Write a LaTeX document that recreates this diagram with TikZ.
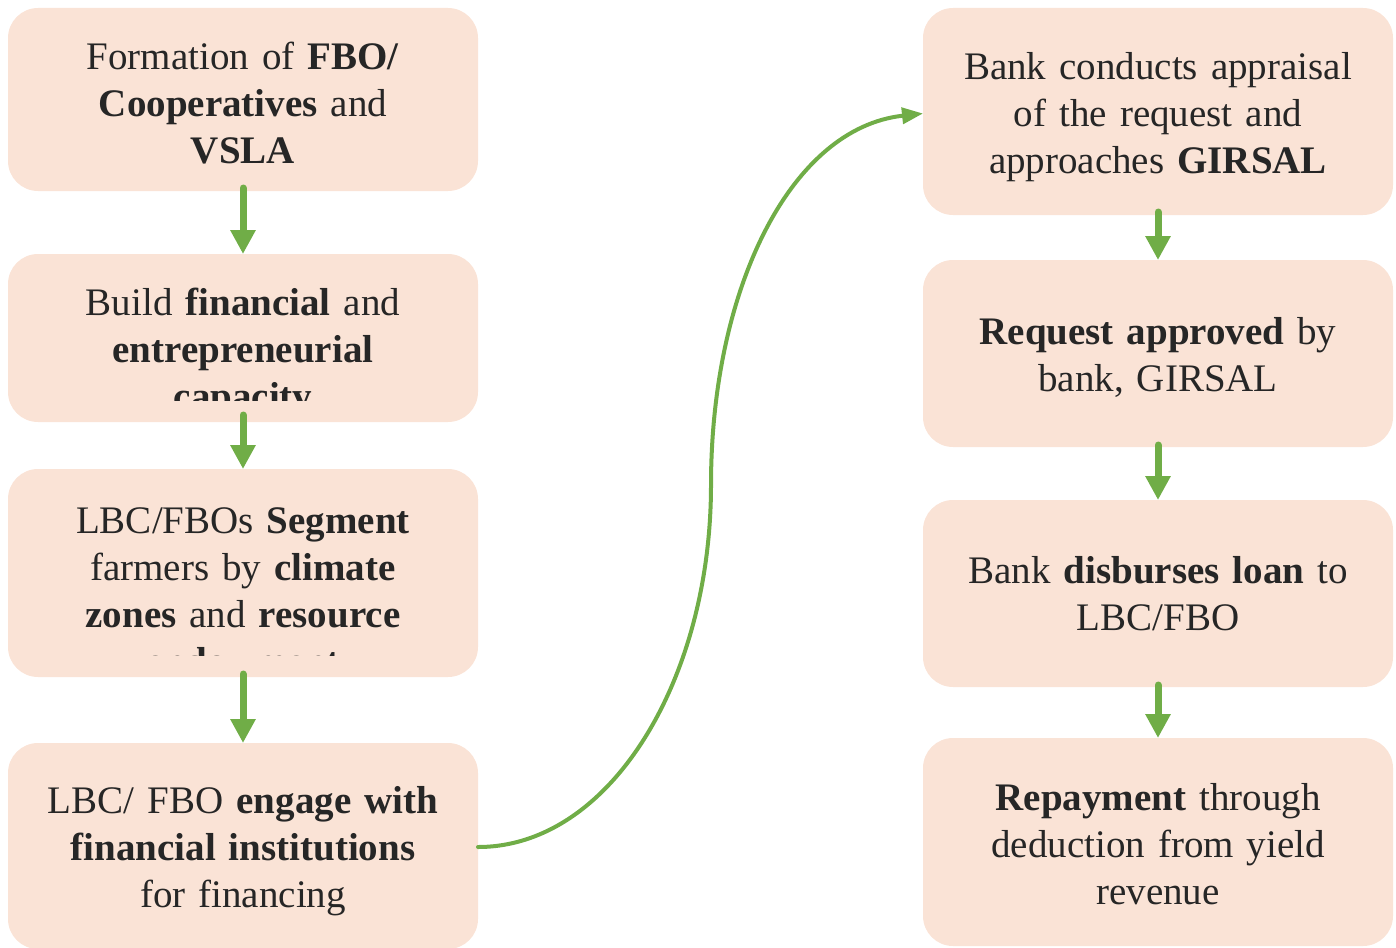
\documentclass[tikz,border=0pt]{standalone}
\usepackage{fontspec}
\setmainfont{Liberation Serif}
\usetikzlibrary{arrows.meta}
\definecolor{boxfill}{HTML}{FAE3D6}
\definecolor{flowgreen}{HTML}{70AD47}
\definecolor{txt}{HTML}{262626}
\begin{document}
\begin{tikzpicture}[x=1pt,y=-1pt,
  stepbox/.style={fill=boxfill, draw=none, rounded corners=30pt, minimum width=470pt, inner sep=0pt, outer sep=0pt},
  boxtext/.style={text width=460pt, align=center, anchor=base, inner sep=0pt, font=\fontsize{39}{47}\selectfont, text=txt},
  flow/.style={draw=flowgreen, line width=7pt, line cap=round, -{Triangle[length=24pt,width=24pt]}},
  curvearrow/.style={draw=flowgreen, line width=4pt, line cap=round, -{Triangle[length=21pt,width=16pt]}}]
\useasboundingbox (0,0) rectangle (1396,947);
% left column boxes
\node[stepbox, minimum height=183pt] (b1) at (243,99.5) {};
\node[stepbox, minimum height=168pt] (b2) at (243,338) {};
\node[stepbox, minimum height=208pt] (b3) at (243,573) {};
\node[stepbox, minimum height=206pt] (b4) at (243,846) {};
% right column boxes
\node[stepbox, minimum height=207pt] (r1) at (1158,111.5) {};
\node[stepbox, minimum height=187pt] (r2) at (1158,353.5) {};
\node[stepbox, minimum height=187pt] (r3) at (1158,593.5) {};
\node[stepbox, minimum height=208pt] (r4) at (1158,842) {};
% texts
\node[boxtext] (t1) at (243,70) {Formation of \textbf{FBO/}\\\textbf{Cooperatives} and\\\textbf{VSLA}};
\begin{scope}
\clip (8,254) rectangle (478,400);
\node[boxtext] (t2) at (243,315) {Build \textbf{financial} and\\\textbf{entrepreneurial}\\\textbf{capacity}};
\end{scope}
\begin{scope}
\clip (8,469) rectangle (478,655);
\node[boxtext] (t3) at (243,533) {LBC/FBOs \textbf{Segment}\\farmers by \textbf{climate}\\\textbf{zones} and \textbf{resource}\\\textbf{endowment}};
\end{scope}
\node[boxtext] (t4) at (243,813) {LBC/ FBO \textbf{engage with}\\\textbf{financial institutions}\\for financing};
\node[boxtext] (s1) at (1158,80) {Bank conducts appraisal\\of the request and\\approaches \textbf{GIRSAL}};
\node[boxtext] (s2) at (1158,344) {\textbf{Request approved} by\\bank, GIRSAL};
\node[boxtext] (s3) at (1158,583) {Bank \textbf{disburses loan} to\\LBC/FBO};
\node[boxtext] (s4) at (1158,810) {\textbf{Repayment} through\\deduction from yield\\revenue};
% connectors
\draw[flow] ([yshift=3pt]b1.south) -- (b2.north);
\draw[flow] ([yshift=7pt]b2.south) -- (b3.north);
\draw[flow] ([yshift=3pt]b3.south) -- (b4.north);
\draw[flow] ([yshift=3pt]r1.south) -- (r2.north);
\draw[flow] ([yshift=2pt]r2.south) -- (r3.north);
\draw[flow] ([yshift=2pt]r3.south) -- (r4.north);
\draw[curvearrow] ([yshift=-1pt]b4.east) .. controls (610,847) and (711,680) .. (711,485)
  .. controls (711,290) and (790,128) .. ([yshift=-2pt]r1.west);
\end{tikzpicture}
\end{document}
